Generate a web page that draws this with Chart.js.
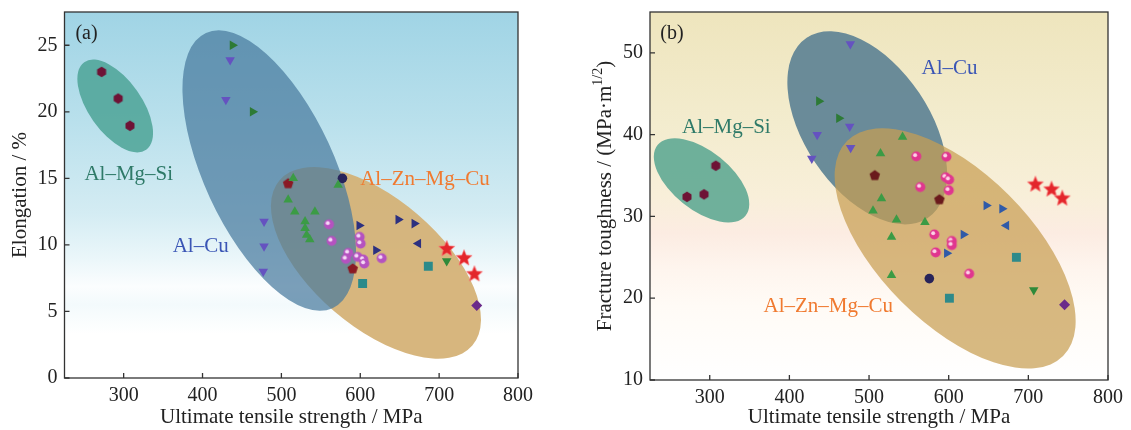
<!DOCTYPE html>
<html><head><meta charset="UTF-8">
<title>UTS vs elongation and fracture toughness</title>
<script src="https://cdn.jsdelivr.net/npm/chart.js"></script>
<style>
  body{margin:0;background:#fff;width:1131px;height:430px;overflow:hidden;position:relative}
  canvas{position:absolute;top:0}
  #chartA{left:0}
  #chartB{left:565px}
</style>
</head><body>
<canvas id="chartA" width="565" height="430"></canvas>
<canvas id="chartB" width="566" height="430"></canvas>
<script>
// ---- data: ultimate tensile strength (MPa) vs property ----
const xTicks = [300, 400, 500, 600, 700, 800];
const yTicksA = [0, 5, 10, 15, 20, 25];
const yTicksB = [10, 20, 30, 40, 50];

// (a) elongation / %
const aMgSi = [[272, 23.0], [293, 21.0], [308, 18.95]];
const aGreenRight = [[438, 25.0], [463.5, 20.0]];
const aPurpleDown = [[435, 23.9], [429.6, 20.9], [478, 11.75], [478, 9.9], [477, 8.0]];
const aGreenUp = [[515, 15.0], [508.6, 13.4], [517, 12.5], [542.5, 12.5], [530, 11.75], [530, 11.25], [532, 10.75], [536, 10.4], [572, 14.5]];
const aRedPent = [[508.6, 14.6], [590.4, 8.2]];
const aNavyDot = [[577.4, 15.0]];
const aPink = [[560.3, 11.55], [563.7, 10.3], [599.2, 10.6], [600.5, 10.1], [584.8, 9.4], [581.9, 8.95], [596.7, 9.1], [603.8, 8.9], [605.1, 8.6], [627.2, 9.0]];
const aNavyRight = [[598.7, 11.45], [619.9, 9.6], [648.2, 11.9], [668.5, 11.6]];
const aNavyLeft = [[673.6, 10.1]];
const aTealSq = [[603, 7.1], [686.3, 8.4]];
const aGreenDown = [[709.6, 8.8]];
const aStar = [[709.6, 9.7], [731.6, 9.0], [744.7, 7.8]];
const aDiamond = [[747.7, 5.45]];

// (b) fracture toughness / MPa·m^1/2
const bMgSi = [[271.4, 32.4], [292.8, 32.7], [307.6, 36.2]];
const bGreenRight = [[437, 44.1], [462.2, 42.0]];
const bPurpleDown = [[476.5, 51.1], [475.7, 41.0], [434.9, 40.0], [476.9, 38.4], [428.1, 37.1]];
const bGreenUp = [[542.1, 39.7], [514.4, 37.7], [515.6, 32.2], [505, 30.7], [534.5, 29.6], [570.2, 29.3], [528.2, 27.5], [528.2, 22.8]];
const bRedPent = [[507.2, 35.0], [588.3, 32.05]];
const bNavyDot = [[575.7, 22.4]];
const bPink = [[559.3, 37.35], [597.1, 37.3], [564.3, 33.6], [596.3, 34.8], [600.5, 34.5], [600.1, 33.2], [582, 27.8], [603.9, 27.0], [603.9, 26.5], [583.7, 25.6], [625.7, 23.0]];
const bNavyRight = [[647.2, 31.35], [667, 30.95], [618.5, 27.8], [597.6, 25.5]];
const bNavyLeft = [[672.4, 28.9]];
const bTealSq = [[600.9, 20.0], [685, 25.0]];
const bGreenDown = [[706.8, 21.0]];
const bStar = [[708.9, 33.9], [729.1, 33.3], [742.6, 32.2]];
const bDiamond = [[745.5, 19.2]];

// alloy-family envelopes: centre and two conjugate semi-axes, in data units
const ellipsesA = [
  {c: [289.3, 20.44], u: [39.25, -3.293], v: [-27.6, -1.149], fill: 'rgba(80,165,152,0.88)'},
  {c: [619.9, 8.65], u: [122.2, -6.213], v: [-52.96, -3.64], fill: 'rgba(212,176,116,0.93)'},
  {c: [484.6, 15.59], u: [80.24, -10.34], v: [-75.31, -2.043], fill: 'rgba(72,122,158,0.72)'}
];
const ellipsesB = [
  {c: [289.7, 34.41], u: [55.23, -4.312], v: [-23.23, -2.805], fill: 'rgba(95,168,148,0.9)'},
  {c: [497.7, 40.84], u: [75.98, -11.02], v: [-65.39, -4.25], fill: 'rgba(98,134,150,0.95)'},
  {c: [608.1, 26.09], u: [135.5, -13.16], v: [-67.3, -6.535], fill: 'rgba(200,158,82,0.72)'}
];
const labelsA = [
  {text: 'Al–Mg–Si', x: 306.5, y: 15.3, color: '#2e7a68'},
  {text: 'Al–Cu', x: 397.6, y: 9.85, color: '#3a55b5'},
  {text: 'Al–Zn–Mg–Cu', x: 682, y: 14.95, color: '#f07a30'}
];
const labelsB = [
  {text: 'Al–Cu', x: 601, y: 48.1, color: '#3a55b5'},
  {text: 'Al–Mg–Si', x: 320.8, y: 40.9, color: '#2e7a68'},
  {text: 'Al–Zn–Mg–Cu', x: 448.8, y: 19.0, color: '#f07a30'}
];

const serif = "'Liberation Serif', 'Times New Roman', serif";
Chart.defaults.font.family = serif;
Chart.defaults.font.size = 20;
Chart.defaults.color = '#222';

function pts(arr) { return arr.map(p => ({x: p[0], y: p[1]})); }

function makeImg(r, draw) {
  const c = document.createElement('canvas');
  c.width = c.height = Math.ceil(r * 2 + 3);
  draw(c.getContext('2d'), c.width / 2);
  return c;
}
function starImg(r, fill) {
  return makeImg(r, (g, c) => {
    g.beginPath();
    for (let i = 0; i < 10; i++) {
      const rr = i % 2 ? r * 0.45 : r, ang = -Math.PI / 2 + i * Math.PI / 5;
      g.lineTo(c + rr * Math.cos(ang), c + rr * Math.sin(ang));
    }
    g.closePath(); g.fillStyle = fill; g.fill();
    g.strokeStyle = 'rgba(255,120,120,0.7)'; g.lineWidth = 0.8; g.stroke();
  });
}
function polyImg(n, r, fill) {
  return makeImg(r, (g, c) => {
    g.beginPath();
    for (let i = 0; i < n; i++) {
      const ang = -Math.PI / 2 + i * 2 * Math.PI / n;
      g.lineTo(c + r * Math.cos(ang), c + r * Math.sin(ang));
    }
    g.closePath(); g.fillStyle = fill; g.fill();
  });
}
function ballImg(r, fill, spot) {
  return makeImg(r, (g, c) => {
    g.beginPath(); g.arc(c, c, r, 0, Math.PI * 2); g.fillStyle = fill; g.fill();
    g.beginPath(); g.arc(c - r * 0.25, c - r * 0.25, r * 0.4, 0, Math.PI * 2); g.fillStyle = spot; g.fill();
  });
}

const imgs = {
  hex: polyImg(6, 5.2, '#6e1235'),
  pent: polyImg(5, 5.5, '#8a1a24'),
  pentB: polyImg(5, 5.5, '#6a1a1c'),
  star: starImg(8.5, '#e3262b'),
  pinkA: ballImg(5, '#b552c0', 'rgba(250,225,250,0.95)'),
  pinkB: ballImg(5, '#e0368f', 'rgba(255,220,235,0.95)')
};

function ds(arr, style, color, radius, rot) {
  return {data: pts(arr), pointStyle: style, pointBackgroundColor: color, pointBorderColor: color,
    pointBorderWidth: 0, pointRadius: radius, pointHoverRadius: radius, pointRotation: rot || 0, showLine: false};
}

function panelPlugin(cfg) {
  return {
    id: 'panel' + cfg.letter,
    beforeDraw(chart) {
      const {ctx, chartArea: a} = chart;
      const g = ctx.createLinearGradient(0, a.top, 0, a.bottom);
      cfg.bg.forEach(s => g.addColorStop(s[0], s[1]));
      ctx.save(); ctx.fillStyle = g;
      ctx.fillRect(a.left, a.top, a.right - a.left, a.bottom - a.top);
      ctx.restore();
    },
    beforeDatasetsDraw(chart) {
      const {ctx, chartArea: a, scales: {x, y}} = chart;
      ctx.save();
      ctx.beginPath(); ctx.rect(a.left, a.top, a.right - a.left, a.bottom - a.top); ctx.clip();
      cfg.ellipses.forEach(e => {
        const cx = x.getPixelForValue(e.c[0]), cy = y.getPixelForValue(e.c[1]);
        const ux = x.getPixelForValue(e.c[0] + e.u[0]) - cx, uy = y.getPixelForValue(e.c[1] + e.u[1]) - cy;
        const vx = x.getPixelForValue(e.c[0] + e.v[0]) - cx, vy = y.getPixelForValue(e.c[1] + e.v[1]) - cy;
        ctx.save();
        ctx.beginPath();
        ctx.transform(ux, uy, vx, vy, cx, cy);
        ctx.arc(0, 0, 1, 0, Math.PI * 2);
        ctx.restore();
        ctx.fillStyle = e.fill; ctx.fill();
      });
      ctx.restore();
    },
    afterDatasetsDraw(chart) {
      const {ctx, chartArea: a, scales: {x, y}} = chart;
      ctx.save();
      ctx.strokeStyle = '#333'; ctx.lineWidth = 1.3;
      ctx.strokeRect(a.left, a.top, a.right - a.left, a.bottom - a.top);
      ctx.beginPath();
      x.ticks.forEach(t => { const p = x.getPixelForValue(t.value); ctx.moveTo(p, a.bottom); ctx.lineTo(p, a.bottom - 5); });
      y.ticks.forEach(t => { const p = y.getPixelForValue(t.value); ctx.moveTo(a.left, p); ctx.lineTo(a.left + 5, p); });
      ctx.stroke();
      ctx.font = '21px ' + serif; ctx.textAlign = 'center'; ctx.textBaseline = 'middle';
      cfg.labels.forEach(l => {
        ctx.fillStyle = l.color;
        ctx.fillText(l.text, x.getPixelForValue(l.x), y.getPixelForValue(l.y));
      });
      ctx.fillStyle = '#222'; ctx.font = '20px ' + serif;
      ctx.fillText('(' + cfg.letter + ')', a.left + 22, a.top + 22);
      if (cfg.extra) cfg.extra(ctx, a);
      ctx.restore();
    }
  };
}

function makeChart(id, cfg) {
  return new Chart(document.getElementById(id), {
    type: 'scatter',
    data: {datasets: cfg.datasets},
    options: {
      responsive: false, animation: false, events: [],
      layout: {padding: {top: 12, right: cfg.padRight, left: 0, bottom: 0}},
      plugins: {legend: {display: false}, tooltip: {enabled: false}},
      scales: {
        x: {
          type: 'linear', min: 225, max: 800,
          afterBuildTicks: s => { s.ticks = xTicks.map(v => ({value: v})); },
          afterFit: s => { s.height = cfg.xHeight; s.paddingLeft = 0; s.paddingRight = 0; },
          grid: {display: false, drawTicks: false}, border: {display: false},
          ticks: {padding: 6, autoSkip: false, maxRotation: 0, color: '#222'},
          title: {display: true, text: 'Ultimate tensile strength / MPa', font: {size: 21}, color: '#222', padding: {top: 0, bottom: 0}}
        },
        y: {
          type: 'linear', min: cfg.yMin, max: cfg.yMax,
          afterBuildTicks: s => { s.ticks = cfg.yTicks.map(v => ({value: v})); },
          afterFit: s => { s.width = cfg.yWidth; s.paddingTop = 0; s.paddingBottom = 0; },
          grid: {display: false, drawTicks: false}, border: {display: false},
          ticks: {padding: 7, autoSkip: false, color: '#222'},
          title: cfg.yTitle
        }
      }
    },
    plugins: [panelPlugin(cfg)]
  });
}

makeChart('chartA', {
  letter: 'a', padRight: 47, xHeight: 52, yWidth: 64.5, yMin: 0, yMax: 27.5, yTicks: yTicksA,
  yTitle: {display: true, text: 'Elongation / %', font: {size: 21}, color: '#222', padding: {top: 8, bottom: 0}},
  bg: [[0, '#a0d4e5'], [0.3, '#b9e0ec'], [0.55, '#d4ecf3'], [0.68, '#ecf7fa'], [0.75, '#fbfdfe'], [0.8, '#f3fafc'], [0.88, '#ffffff'], [1, '#ffffff']],
  ellipses: ellipsesA, labels: labelsA,
  datasets: [
    ds(aMgSi, imgs.hex, '#6e1235', 5),
    ds(aGreenRight, 'triangle', '#2d7a36', 5.5, 90),
    ds(aPurpleDown, 'triangle', '#6552c0', 5.5, 180),
    ds(aGreenUp, 'triangle', '#3b9b45', 5.5, 0),
    ds(aRedPent, imgs.pent, '#8a1a24', 5),
    ds(aNavyDot, 'circle', '#28245a', 4.8),
    ds(aPink, imgs.pinkA, '#b552c0', 5),
    ds(aNavyRight, 'triangle', '#2c3080', 5.5, 90),
    ds(aNavyLeft, 'triangle', '#2c3080', 5.5, 270),
    ds(aTealSq, 'rect', '#2b8a8a', 6.3),
    ds(aGreenDown, 'triangle', '#2e8a3a', 5.5, 180),
    ds(aStar, imgs.star, '#e3262b', 8),
    ds(aDiamond, 'rectRot', '#6a2a8a', 5.5)
  ]
});

makeChart('chartB', {
  letter: 'b', padRight: 23, xHeight: 50, yWidth: 85, yMin: 10, yMax: 55, yTicks: yTicksB,
  yTitle: {display: false},
  bg: [[0, '#eee5bd'], [0.3, '#f3ecce'], [0.5, '#f8efd9'], [0.6, '#fcece2'], [0.7, '#fef5ee'], [0.8, '#fffbf6'], [1, '#ffffff']],
  ellipses: ellipsesB, labels: labelsB,
  extra: (ctx, a) => {
    // y title with superscript exponent
    const main = 'Fracture toughness / (MPa·m', sup = '1/2', tail = ')';
    ctx.save();
    ctx.translate(40, (a.top + a.bottom) / 2);
    ctx.rotate(-Math.PI / 2);
    ctx.fillStyle = '#222'; ctx.textAlign = 'left'; ctx.textBaseline = 'middle';
    ctx.font = '21px ' + serif;
    const w1 = ctx.measureText(main).width, w3 = ctx.measureText(tail).width;
    ctx.font = '14px ' + serif;
    const w2 = ctx.measureText(sup).width;
    let s = -(w1 + w2 + w3) / 2;
    ctx.font = '21px ' + serif; ctx.fillText(main, s, 0);
    ctx.font = '14px ' + serif; ctx.fillText(sup, s + w1, -7);
    ctx.font = '21px ' + serif; ctx.fillText(tail, s + w1 + w2, 0);
    ctx.restore();
  },
  datasets: [
    ds(bMgSi, imgs.hex, '#6e1235', 5),
    ds(bGreenRight, 'triangle', '#2d7a36', 5.5, 90),
    ds(bPurpleDown, 'triangle', '#6552c0', 5.5, 180),
    ds(bGreenUp, 'triangle', '#3b9b45', 5.5, 0),
    ds(bRedPent, imgs.pentB, '#6a1a1c', 5),
    ds(bNavyDot, 'circle', '#28245a', 4.8),
    ds(bPink, imgs.pinkB, '#e0368f', 5),
    ds(bNavyRight, 'triangle', '#2f5aa8', 5.5, 90),
    ds(bNavyLeft, 'triangle', '#2f5aa8', 5.5, 270),
    ds(bTealSq, 'rect', '#2e8a8a', 6.3),
    ds(bGreenDown, 'triangle', '#2e8a3a', 5.5, 180),
    ds(bStar, imgs.star, '#e3262b', 8),
    ds(bDiamond, 'rectRot', '#6a2a8a', 5.5)
  ]
});
</script>
</body></html>
